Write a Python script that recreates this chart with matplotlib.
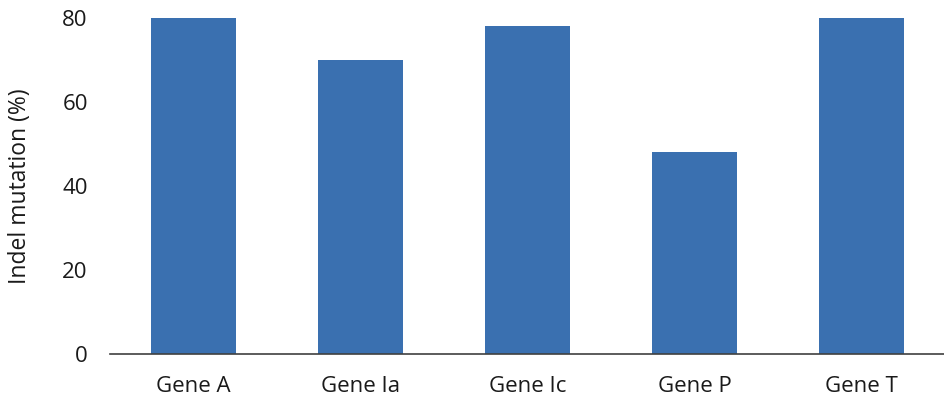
import matplotlib
matplotlib.use("Agg")
import matplotlib.pyplot as plt

categories = ["Gene A", "Gene Ia", "Gene Ic", "Gene P", "Gene T"]
values = [80, 70, 78, 48, 80]
yticks = [0, 20, 40, 60, 80]

plt.rcParams['font.family'] = ['Open Sans', 'DejaVu Sans']

fig = plt.figure(figsize=(9.45, 4.0), dpi=100)
ax = fig.add_axes([110/945, 46/400, 835/945, 336/400])
x = range(len(categories))
ax.bar(x, values, width=0.51, color="#3A70B0", zorder=2)
ax.set_xlim(-0.5, len(categories) - 0.5)
ax.set_ylim(0, 80)
ax.set_yticks(yticks)
ax.set_xticks(list(x))
ax.set_xticklabels(categories)
for s in ["top", "right", "left"]:
    ax.spines[s].set_visible(False)
ax.spines["bottom"].set_color("#404040")
ax.spines["bottom"].set_linewidth(1.2)
ax.spines["bottom"].set_zorder(3)
ax.tick_params(axis="y", length=0, pad=16, labelsize=16, labelcolor="#1a1a1a")
ax.tick_params(axis="x", length=0, pad=16, labelsize=16, labelcolor="#1a1a1a")
ax.set_ylabel("Indel mutation (%)", fontsize=16.5, color="#1a1a1a", labelpad=22)
fig.savefig("out.png", dpi=100)
